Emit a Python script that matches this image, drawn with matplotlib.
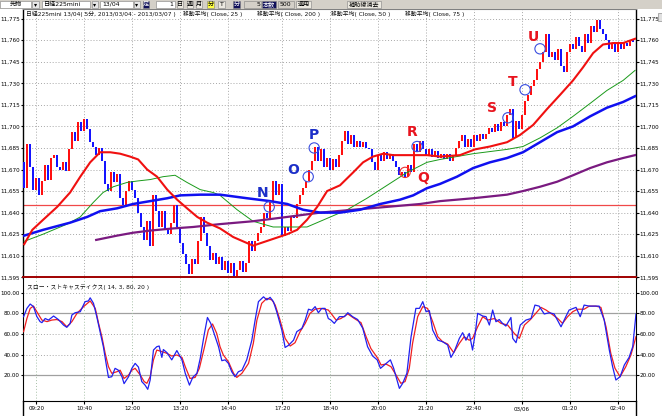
import numpy as np
import matplotlib
matplotlib.use("Agg")
import matplotlib.pyplot as plt
from matplotlib.patches import Rectangle

plt.rcParams['font.family'] = ['DejaVu Sans', 'Noto Sans CJK JP']

# ---- data (x = bar number, 5 min bars) ----
first_open = 11675
closes = [
    11657, 11688, 11672, 11656, 11664, 11652, 11662, 11673, 11663, 11678,
    11680, 11672, 11670, 11675, 11669, 11684, 11696, 11690, 11703, 11697,
    11705, 11698, 11689, 11686, 11680, 11685, 11676, 11660, 11655, 11668,
    11661, 11667, 11650, 11645, 11655, 11662, 11656, 11650, 11640, 11630,
    11621, 11634, 11617, 11652, 11641, 11630, 11641, 11628, 11625, 11633,
    11645, 11630, 11619, 11611, 11604, 11597, 11608, 11604, 11620, 11637,
    11626, 11617, 11607, 11612, 11604, 11609, 11600, 11606, 11598, 11605,
    11596, 11600, 11606, 11599, 11605, 11620, 11613, 11620, 11626, 11630,
    11640, 11636, 11648, 11662, 11652, 11660, 11624, 11630, 11627, 11637,
    11636, 11646, 11652, 11657, 11662, 11670, 11676, 11686, 11676, 11684,
    11672, 11678, 11670, 11677, 11672, 11680, 11690, 11697, 11688, 11694,
    11686, 11690, 11686, 11689, 11685, 11684, 11675, 11670, 11680, 11676,
    11682, 11677, 11681, 11676, 11672, 11666, 11668, 11665, 11673, 11668,
    11688, 11682, 11690, 11684, 11680, 11684, 11679, 11683, 11678, 11681,
    11677, 11681, 11676, 11680, 11685, 11690, 11694, 11686, 11691, 11686,
    11694, 11690, 11695, 11691, 11695, 11699, 11696, 11702, 11697, 11703,
    11700, 11708, 11712, 11692, 11704, 11698, 11708, 11718, 11722, 11728,
    11732, 11740, 11745, 11752, 11764, 11748, 11752, 11746, 11754, 11742,
    11738, 11752, 11757, 11754, 11762, 11756, 11752, 11764, 11758, 11770,
    11766, 11774, 11768, 11764, 11760, 11754, 11758, 11752, 11757, 11754,
    11758, 11756, 11760, 11759,
]

ma25_x = [0, 2.7, 6.3, 11, 15.3, 18.7, 22, 25.3, 28.7, 32, 35.3, 38, 41, 44.3, 47.7, 51,
          54.3, 57.7, 61, 65.3, 69.7, 76.3, 82, 87.7, 91, 94.3, 97.7, 101, 105.3, 109.7,
          113, 116.3, 119.7, 123, 126.3, 129.7, 134.3, 138.7, 145.3, 150.3, 155.3, 161,
          165.3, 169.7, 174.3, 178.7, 183, 186.3, 189.7, 193, 196.3, 199.7, 203.7]
ma25_y = [11618, 11628, 11635, 11644, 11654, 11665, 11675, 11682, 11682, 11681, 11679,
          11677, 11670, 11665, 11656, 11649, 11643, 11637, 11633, 11629, 11623, 11617,
          11621, 11625, 11628, 11635, 11644, 11655, 11659, 11668, 11675, 11679, 11681,
          11680, 11680, 11680, 11680, 11679, 11680, 11684, 11686, 11689, 11694, 11701,
          11712, 11722, 11732, 11741, 11751, 11757, 11758, 11758, 11761]

ma50_x = [0, 6.3, 14.3, 18.7, 23, 26.3, 29.7, 34.3, 37.7, 42, 46.3, 50.3, 54.3, 58.7, 63,
          65.3, 71, 76.3, 83, 87.7, 94.3, 101, 107.7, 114.3, 121, 127.7, 134.3, 138.7,
          149.7, 161, 166.3, 172, 177.7, 183, 188.7, 194.3, 199.7, 203.7]
ma50_y = [11620, 11625, 11632, 11637, 11647, 11654, 11658, 11661, 11662, 11663, 11665,
          11666, 11661, 11656, 11654, 11652, 11642, 11634, 11630, 11630, 11630, 11636,
          11642, 11650, 11659, 11668, 11675, 11677, 11681, 11684, 11686, 11692, 11699,
          11707, 11716, 11725, 11732, 11739]

ma200_x = [0, 6.3, 15.3, 21, 25.3, 31, 36.3, 42, 47.7, 52, 58.7, 65.3, 74.3, 82, 87.7, 93,
           98.7, 105.3, 112, 118.7, 125.3, 129.7, 134.3, 138.7, 144.3, 149.7, 155.3, 161,
           166.3, 172, 177.7, 183, 188.7, 194.3, 199.7, 203.7]
ma200_y = [11624, 11628, 11633, 11637, 11641, 11643, 11646, 11648, 11650, 11652, 11652.5,
           11652.5, 11650, 11648, 11646, 11642, 11640, 11640, 11642, 11646, 11649, 11652,
           11657, 11660, 11665, 11671, 11675, 11678, 11682, 11689, 11696, 11700, 11707,
           11713, 11717, 11721]

ma75_x = [24, 31, 36.3, 42, 49.7, 56.3, 65.3, 76.3, 87.7, 98.7, 109.7, 121, 132, 138.7,
          149.7, 161, 166.3, 172, 177.7, 183, 188.7, 194.3, 199.7, 203.7]
ma75_y = [11621, 11624, 11626, 11627.5, 11629, 11630, 11632, 11634, 11637, 11640, 11642,
          11644, 11646, 11648, 11650, 11652.5, 11655, 11658, 11661.5, 11666, 11671, 11675,
          11678, 11680]

support_level = 11645

stoch_k_x = [-0.2, 0.9, 2, 3.1, 4.2, 5.3, 5.9, 7, 8.1, 9.8, 11.4, 13.1, 14.2, 15.3, 15.9, 17,
             18.7, 20.3, 21.4, 22, 23.1, 24.2, 25.3, 26.4, 27.3, 28.1, 29.2, 30.3, 31.4,
             32.6, 33.3, 34.8, 35.9, 37, 38.1, 39.2, 40.3, 41.2, 42, 43.1, 44.2, 45, 45.9,
             46.4, 47.6, 49.2, 50.9, 52.6, 53.7, 55.1, 56.2, 57.6, 58.7, 60, 61.1, 62.2,
             63.7, 64.8, 65.9, 67, 68.1, 69.2, 70.3, 71.4, 72.6, 74.2, 75.9, 77, 78.1,
             79.8, 80.9, 82, 83.1, 84.2, 85.9, 87, 88.1, 89.8, 90.9, 92.6, 93.7, 94.8,
             95.9, 97, 98.1, 99.2, 100.3, 101.4, 102.3, 103.4, 105.1, 106.8, 107.9, 109.5,
             111.2, 112.9, 114.5, 116.2, 117.7, 118.8, 120.1, 122.1, 123.2, 124.3, 125.1,
             126.2, 127.6, 129, 130.6, 131.8, 132.9, 134, 135.1, 136.2, 137.9, 139.5,
             141.2, 142.3, 143.4, 145.1, 146.2, 147.3, 148.4, 149.5, 150.4, 151.2, 152.9,
             154, 155.1, 156.2, 157.3, 158.4, 159.5, 160.6, 162.3, 162.9, 164, 165.4,
             167.3, 169, 170.3, 171.7, 173.4, 175.1, 176.7, 179, 180.6, 181.7, 184, 185.4,
             186.7, 188.4, 190.1, 191.7, 193.4, 195.1, 196.2, 197.3, 198.7, 200.1, 201.7,
             202.9, 204]
stoch_k_y = [76.8, 84.8, 89, 86.5, 77, 72, 71, 75, 73.5, 77.4, 74, 68.7, 66.5, 70, 78.4,
             80.6, 81.6, 91.3, 92, 95, 89.7, 76.8, 62.3, 47.7, 31.6, 18, 18.7, 26.8, 25,
             18.7, 12, 18.7, 26.8, 31.6, 28, 14, 10.6, 6.5, 15.5, 44.5, 47.7, 48.4, 37.4,
             45, 42, 35, 44, 35, 22, 10.6, 18, 22, 36.5, 59, 76, 70.3, 57.4, 47.7, 34.2,
             35, 31.6, 23.5, 18.7, 23.5, 25, 35, 54, 73.5, 91.3, 96, 93, 95.5, 91.3, 81.6,
             63.9, 47, 49, 54, 62.3, 65.5, 73.5, 84, 83, 86.5, 80.6, 84.8, 84.8, 75,
             73.5, 70.3, 76.8, 76.8, 80.6, 76.8, 74, 65.5, 47.7, 38.7, 35, 26.8, 30, 35,
             26.8, 15.5, 7.4, 12.3, 22, 57.4, 84.8, 84.8, 91.3, 81.6, 82.6, 63.9, 54,
             52.6, 49.4, 37.4, 43, 55.8, 61.3, 54, 60.6, 44.5, 60.6, 80, 77.4, 76.8, 68.7,
             83.2, 71.9, 74, 70.3, 67.7, 76, 55.8, 51.6, 68.7, 73.5, 75, 88, 87, 79.4,
             80.6, 79.4, 67, 76.8, 83.2, 85.8, 76.8, 88, 87, 87, 87, 73.5, 44.5, 28.4,
             15.5, 18.7, 30, 37.4, 47.7, 79.4]

stoch_d_x = [-0.2, 0.9, 2, 3.1, 4.2, 5.9, 7.6, 9.2, 10.9, 12.6, 14.2, 15.9, 17.6, 19.8, 22,
             23.7, 24.8, 25.9, 27, 28.1, 29.2, 30.9, 32, 33.3, 34.8, 35.9, 37, 38.7, 40,
             40.9, 42, 43.1, 44.2, 45.9, 47.6, 49.2, 50.9, 52.6, 53.7, 55.3, 57, 58.4, 60,
             61.4, 62.8, 64.2, 65.3, 66.4, 68.1, 69.8, 70.9, 72.6, 74.8, 76.4, 77.6, 79.2,
             80.9, 82.6, 83.7, 85.3, 87, 88.7, 90.3, 92, 93.7, 95.3, 97, 98.7, 100.3,
             101.4, 102.3, 104, 105.6, 107.9, 110.1, 112.3, 114, 115.6, 117.9, 119, 120.6,
             122.3, 124, 125.6, 127, 128.4, 129.5, 131.2, 132.9, 134.5, 136.2, 137.9,
             139.5, 141.2, 143.2, 145.1, 146.7, 148.4, 149.5, 151.2, 152.9, 154.5, 156.8,
             159, 161.2, 163.4, 165.1, 166.8, 168.8, 170.6, 172.3, 174, 175.6, 177.9,
             179.5, 181.2, 182.9, 184.5, 186.7, 188.4, 190.6, 192.3, 194, 195.6, 197,
             198.7, 200.6, 202.3, 204]
stoch_d_y = [62.3, 75, 84.8, 87, 81.6, 73.5, 72, 73.5, 74, 72, 67, 72, 80, 86.5, 92, 84.8,
             70.3, 57.4, 41.3, 28.4, 22, 23.5, 25, 17, 20.3, 25, 26.8, 20.3, 14, 12.3,
             18.7, 35, 44.5, 43, 41.3, 38.7, 39.7, 37.4, 28.4, 17, 18, 26.8, 46, 63.9,
             69.7, 60.6, 47.7, 39.7, 33.2, 22, 18, 22, 31.6, 51, 73.5, 89.7, 94.5, 93, 88,
             73.5, 55.8, 48.4, 51.6, 62.3, 70.3, 80, 84, 84.8, 84, 83.2, 80, 73.5, 75,
             79.4, 75, 71, 57.4, 46, 36.5, 30, 31, 28.4, 20.3, 12.3, 14, 26.8, 51, 76.8,
             86.5, 84.8, 72, 57.4, 52.6, 50.3, 42, 51, 57.4, 54, 55.8, 67, 76.8, 73.5, 75,
             70.3, 68.7, 60.6, 55.8, 68.7, 74, 80, 85.8, 83.2, 80, 75, 70.3, 76.8, 81.6,
             84, 84, 87, 87, 85.8, 67, 41.3, 26.8, 18.7, 28.4, 39.7, 57.4]

time_tick_x = [4, 20, 36, 52, 68, 86, 102, 118, 134, 150, 166, 182, 198]
time_labels = ['09:20', '10:40', '12:00', '13:20', '14:40', '17:20', '18:40',
               '20:00', '21:20', '22:40', '03/06', '01:20', '02:40']
price_ticks = list(range(11595, 11776, 15))
stoch_ticks = [20, 40, 60, 80, 100]

mark_names = ['N', 'O', 'P', 'Q', 'R', 'S', 'T', 'U']
mark_x = [81.7, 94.7, 96.7, 127, 131, 161.3, 167, 172]
mark_y = [11644, 11665, 11685, 11668, 11686, 11706, 11725.5, 11754]
# styling for the marks (pixel offsets of the letter from its circle)
mark_offsets = [(-7, 14), (-15, 7), (0, 13), (18, -6), (-5, 15), (-16, 10), (-12, 8), (-7, 12)]
mark_text_colors = ['#1c2fc8'] * 3 + ['#e8141e'] * 5
mark_ring_colors = ['#3a4ee0'] * 3 + ['#e83030'] + ['#3a4ee0'] * 4

# ---- figure ----
W, H = 662, 416
fig = plt.figure(figsize=(W / 100, H / 100), dpi=100)
fig.patch.set_facecolor('white')

def frac(x0, y0, x1, y1):
    return [x0 / W, 1 - y1 / H, (x1 - x0) / W, (y1 - y0) / H]

ax = fig.add_axes(frac(23, 9, 636, 278))
ax2 = fig.add_axes(frac(23, 278, 636, 401))

grid_kw = dict(color='#a8a8a8', lw=0.7, ls=(0, (1, 2)), zorder=0)
lab_size = 4.1
tick_kw = dict(direction='out', length=1.8, width=0.8, labelsize=lab_size, pad=0.6)

# price panel
opens = np.array([first_open] + closes[:-1], dtype=float)
cl = np.array(closes, dtype=float)
idx = np.arange(len(cl))
up = cl >= opens
lo = np.minimum(opens, cl)
hgt = np.maximum(np.abs(cl - opens), 1.2)
ax.bar(idx[up], hgt[up], bottom=lo[up], width=0.65, color='#ff1010', lw=0, zorder=3)
ax.bar(idx[~up], hgt[~up], bottom=lo[~up], width=0.65, color='#1414ff', lw=0, zorder=3)

ax.plot(ma50_x, ma50_y, color='#1a9a1a', lw=0.7, zorder=4)
ax.plot(ma75_x, ma75_y, color='#7a1a80', lw=1.6, zorder=4)
ax.plot(ma200_x, ma200_y, color='#1010f0', lw=1.8, zorder=4)
ax.plot(ma25_x, ma25_y, color='#f01010', lw=1.5, zorder=5)
ax.axhline(support_level, color='#f04848', lw=0.9, zorder=2)
ax.axhline(11595, color='#a00000', lw=1.4, zorder=6, clip_on=False)

for p in price_ticks[1:]:
    ax.axhline(p, **grid_kw)
for t in time_tick_x:
    ax.axvline(t, **grid_kw)

ax.scatter(mark_x, mark_y, s=55, facecolors='none', edgecolors=mark_ring_colors,
           linewidths=0.8, zorder=7)
for name, x, y, off, c in zip(mark_names, mark_x, mark_y, mark_offsets, mark_text_colors):
    ax.annotate(name, (x, y), xytext=off, textcoords='offset pixels', ha='center',
                va='center', color=c, fontsize=10, fontweight='bold', zorder=8)

ax.set_xlim(-0.4, 204)
ax.set_ylim(11594.5, 11781.7)
ax.set_yticks(price_ticks)
ax.set_yticklabels([f'{p:,}' for p in price_ticks])
ax.tick_params(axis='y', left=True, right=True, labelleft=True, labelright=True, **tick_kw)
ax.tick_params(axis='x', bottom=False, labelbottom=False)
for s in ('left', 'right'):
    ax.spines[s].set_linewidth(1)
ax.spines['top'].set_color('#808080')
ax.spines['bottom'].set_visible(False)

hdr = dict(fontsize=4.2, va='center', transform=ax.transAxes, color='#101010')
ax.text(0.005, 0.981, '日経225mini 13/04( 5分, 2013/03/04 - 2013/03/07 )', **hdr)
ax.text(0.261, 0.981, '移動平均( Close, 25 )', **hdr)
ax.text(0.381, 0.981, '移動平均( Close, 200 )', **hdr)
ax.text(0.503, 0.981, '移動平均( Close, 50 )', **hdr)
ax.text(0.623, 0.981, '移動平均( Close, 75 )', **hdr)

# stochastics panel
ax2.plot(stoch_d_x, stoch_d_y, color='#f02020', lw=0.9, zorder=4)
ax2.plot(stoch_k_x, stoch_k_y, color='#2020f0', lw=0.9, zorder=5)
for v in (100, 60, 40):
    ax2.axhline(v, **grid_kw)
for v in (80, 20):
    ax2.axhline(v, color='#a0a0a0', lw=0.9, zorder=0)
for t in time_tick_x:
    ax2.axvline(t, color='#a8c0a8', lw=0.7, ls=(0, (1, 2)), zorder=0)
ax2.set_xlim(-0.4, 204)
ax2.set_ylim(-4.8, 114.2)
ax2.set_yticks(stoch_ticks)
ax2.set_yticklabels([f'{v:.2f}' for v in stoch_ticks])
ax2.set_xticks(time_tick_x)
ax2.set_xticklabels(time_labels)
ax2.tick_params(axis='y', left=True, right=True, labelleft=True, labelright=True, **tick_kw)
ax2.tick_params(axis='x', direction='out', length=2.5, width=0.8, labelsize=lab_size, pad=1.2)
ax2.spines['top'].set_visible(False)
ax2.text(0.007, 0.927, 'スロー・ストキャスティクス( 14, 3, 80, 20 )', fontsize=4.2,
         va='center', transform=ax2.transAxes, color='#101010')

# window chrome: toolbar strip and axis lines running to the bottom edge
ov = fig.add_axes([0, 0, 1, 1], zorder=10)
ov.set_xlim(0, W)
ov.set_ylim(H, 0)
ov.axis('off')
ov.patch.set_alpha(0)
ov.add_patch(Rectangle((0, 0), W, 8.5, color='#d4d0c8', lw=0))
ov.plot([23, 23], [401, H], color='black', lw=1)
ov.plot([636, 636], [401, H], color='black', lw=1)
ov.add_patch(Rectangle((658, 13), 4, 8, facecolor='#e0e0e0', edgecolor='#909090', lw=0.5))

widgets = [
    (0, 31, '先物', 'white', 'black'), (32, 39, '▾', '#e8e8e8', 'black'),
    (42, 90, '日経225mini', 'white', 'black'), (92, 98, '▾', '#e8e8e8', 'black'),
    (100, 133, '13/04', 'white', 'black'), (134, 140, '▾', '#e8e8e8', 'black'),
    (143, 149, '足', '#10105a', 'white'), (156, 175, '      1', 'white', 'black'),
    (177, 183, '日', '#ece9e0', 'black'), (187, 193, '週', '#ece9e0', 'black'),
    (196, 202, '月', '#ece9e0', 'black'), (207, 214, '分', '#ffff40', 'black'),
    (218, 225, 'T', '#ece9e0', 'black'), (233, 240, '分', '#10105a', 'white'),
    (244, 261, '      5', '#d4d0c8', 'black'), (262, 276, '本数', '#10105a', 'white'),
    (278, 294, '500', '#d4d0c8', 'black'), (296, 311, '適用', '#ece9e0', 'black'),
    (347, 381, '補助線消去', '#ece9e0', 'black'),
]
for x0, x1, txt, bg, fg in widgets:
    ov.add_patch(Rectangle((x0, 0.5), x1 - x0, 7.5, facecolor=bg, edgecolor='#808080',
                           lw=0.4))
    short = len(txt.strip()) < 3
    ov.text((x0 + x1) / 2 if short else x0 + 2, 4.5, txt, fontsize=4.4, color=fg,
            va='center', ha='center' if short else 'left')

fig.savefig('out.png', dpi=100)
